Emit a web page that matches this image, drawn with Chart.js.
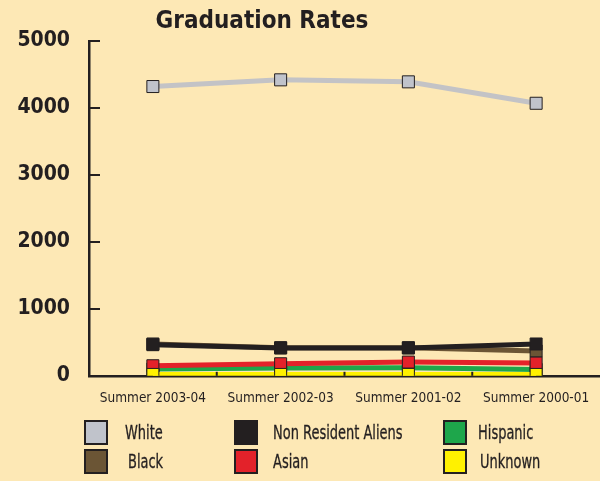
<!DOCTYPE html>
<html lang="en">
<head>
  <meta charset="UTF-8">
  <title>Graduation Rates</title>
  <script src="https://cdn.jsdelivr.net/npm/chart.js"></script>
  <style>
    body { margin: 0; background: #fde8b5; }
    #wrap { position: relative; width: 600px; height: 481px; }
    #title { position: absolute; left: 132px; top: 6px; width: 260px; text-align: center; white-space: nowrap;
      line-height: 28px; font-family: "DejaVu Sans Condensed", sans-serif; font-weight: bold; font-size: 24px; color: #231f20; }
    #legend { position: absolute; left: 0; top: 0; width: 600px; height: 481px; pointer-events: none;
      font-family: "Liberation Sans Narrow", "DejaVu Sans Condensed", sans-serif; font-size: 19px; color: #231f20; }
    .item { position: absolute; height: 24px; line-height: 24px; white-space: nowrap; }
    .box { position: absolute; left: 0; top: 0; width: 20px; height: 21px; border: 2px solid #231f20; }
    .lbl { position: absolute; top: 0; transform: scaleX(0.76); transform-origin: left center;
      -webkit-text-stroke: 0.3px #231f20; }
  </style>
</head>
<body>
  <div id="wrap">
    <canvas id="chart" width="600" height="481"></canvas>
    <div id="title">Graduation Rates</div>
    <div id="legend"></div>
  </div>

  <script>
    const categories = ['Summer 2003-04', 'Summer 2002-03', 'Summer 2001-02', 'Summer 2000-01'];
    const white    = [4320, 4420, 4390, 4070];
    const nra      = [465, 415, 415, 475];
    const black    = [475, 420, 420, 370];
    const asian    = [150, 180, 205, 190];
    const hispanic = [100, 115, 120, 95];
    const unknown  = [20, 20, 20, 20];
    const yTicks   = [0, 1000, 2000, 3000, 4000, 5000];

    const ink = '#231f20';
    const series = [
      { name: 'White', data: white, color: '#c3c3c6', point: '#c0c3cb', order: 0 },
      { name: 'Black', data: black, color: '#6b5535', point: '#6b5535', order: 5 },
      { name: 'Non Resident Aliens', data: nra, color: '#231f20', point: '#231f20', order: 2 },
      { name: 'Asian', data: asian, color: '#e3222a', point: '#e3222a', order: 3 },
      { name: 'Hispanic', data: hispanic, color: '#1ea64b', point: '#1ea64b', order: 4 },
      { name: 'Unknown', data: unknown, color: '#fff100', point: '#fff100', order: 1 }
    ];

    // inward tick marks on both axes
    const innerTicks = {
      id: 'innerTicks',
      afterDraw(chart) {
        const { ctx, scales: { x, y } } = chart;
        ctx.save();
        ctx.strokeStyle = ink;
        ctx.lineWidth = 2;
        yTicks.forEach(v => {
          const py = Math.round(y.getPixelForValue(v));
          if (v === 0) return;
          ctx.beginPath();
          ctx.moveTo(x.left, py);
          ctx.lineTo(x.left + 11, py);
          ctx.stroke();
        });
        for (let i = 0; i < categories.length - 1; i++) {
          const px = (x.getPixelForValue(i) + x.getPixelForValue(i + 1)) / 2;
          ctx.beginPath();
          ctx.moveTo(px, y.bottom);
          ctx.lineTo(px, y.bottom - 4);
          ctx.stroke();
        }
        ctx.restore();
      }
    };

    new Chart(document.getElementById('chart'), {
      type: 'line',
      data: {
        labels: categories,
        datasets: series.map(s => ({
          label: s.name,
          data: s.data,
          order: s.order,
          borderColor: s.color,
          borderWidth: 5,
          pointStyle: 'rect',
          pointRadius: 8.5,
          pointBackgroundColor: s.point,
          pointBorderColor: ink,
          pointBorderWidth: 1,
          tension: 0
        }))
      },
      options: {
        responsive: false,
        animation: false,
        layout: { autoPadding: false, padding: { left: 0, right: -3, top: 41, bottom: 67 } },
        plugins: {
          legend: { display: false },
          tooltip: { enabled: false },
          title: { display: false }
        },
        scales: {
          x: {
            offset: true,
            grid: { display: false },
            border: { display: true, color: ink, width: 2.5 },
            ticks: {
              color: ink,
              padding: 7,
              maxRotation: 0,
              font: { family: '"Liberation Sans Narrow", "DejaVu Sans Condensed", sans-serif', size: 13.5 }
            }
          },
          y: {
            min: 0,
            max: 5000,
            afterFit(scale) { scale.width = 89; },
            afterBuildTicks(scale) { scale.ticks = yTicks.map(v => ({ value: v })); },
            grid: { display: false },
            border: { display: true, color: ink, width: 2.5 },
            ticks: {
              color: ink,
              padding: 11,
              callback: v => String(v),
              font: { family: '"DejaVu Sans Condensed", sans-serif', size: 21, weight: 'bold' }
            }
          }
        }
      },
      plugins: [innerTicks]
    });

    // legend laid out as in the original: three columns, two rows
    const legendPos = [
      { name: 'White', box: [84, 420], text: 125 },
      { name: 'Non Resident Aliens', box: [234, 420], text: 273 },
      { name: 'Hispanic', box: [443, 420], text: 478 },
      { name: 'Black', box: [84, 449], text: 128 },
      { name: 'Asian', box: [234, 449], text: 273 },
      { name: 'Unknown', box: [443, 449], text: 480 }
    ];
    const legend = document.getElementById('legend');
    legendPos.forEach(p => {
      const s = series.find(d => d.name === p.name);
      const item = document.createElement('div');
      item.className = 'item';
      item.style.left = p.box[0] + 'px';
      item.style.top = p.box[1] + 'px';
      const box = document.createElement('div');
      box.className = 'box';
      box.style.background = s.point;
      const lbl = document.createElement('div');
      lbl.className = 'lbl';
      lbl.style.left = (p.text - p.box[0]) + 'px';
      lbl.textContent = s.name;
      item.appendChild(box);
      item.appendChild(lbl);
      legend.appendChild(item);
    });
  </script>
</body>
</html>
